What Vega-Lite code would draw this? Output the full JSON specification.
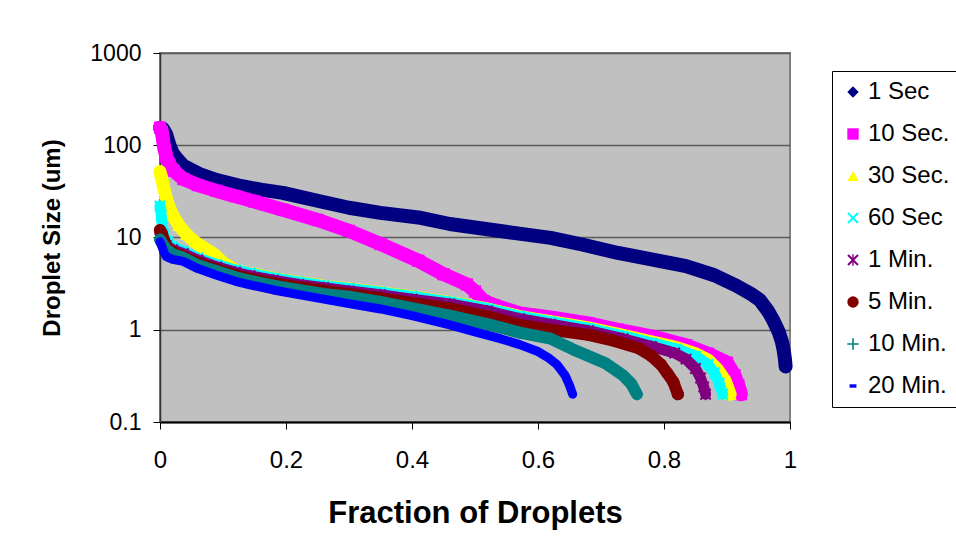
{
  "$schema": "https://vega.github.io/schema/vega-lite/v6.json",
  "width": 630,
  "height": 369,
  "autosize": {"type": "none"},
  "padding": {"left": 160, "top": 53, "right": 166, "bottom": 136},
  "background": "white",
  "config": {
    "font": "Liberation Sans",
    "view": {"fill": "#C0C0C0", "stroke": "#808080", "strokeWidth": 2},
    "axis": {
      "labelFont": "Liberation Sans",
      "labelColor": "#000000",
      "labelFlush": false,
      "titleFont": "Liberation Sans",
      "titleColor": "#000000",
      "titleFontWeight": "bold",
      "tickColor": "#000000",
      "tickSize": 7,
      "tickWidth": 1,
      "domainColor": "#000000",
      "domainWidth": 1.5
    },
    "legend": {
      "orient": "none",
      "legendX": 672,
      "legendY": 18,
      "padding": 9,
      "rowPadding": 18,
      "labelFont": "Liberation Sans",
      "labelFontSize": 24,
      "labelColor": "#000000",
      "labelOffset": 3,
      "symbolSize": 130,
      "symbolStrokeWidth": 0,
      "strokeColor": "#000000",
      "fillColor": "#FFFFFF",
      "titlePadding": 0
    }
  },
  "data": {
    "values": [
      {"s": "1 Sec", "f": 0, "v": 155}, {"s": "1 Sec", "f": 0.005, "v": 150}, {"s": "1 Sec", "f": 0.01, "v": 130},
      {"s": "1 Sec", "f": 0.015, "v": 100}, {"s": "1 Sec", "f": 0.02, "v": 82}, {"s": "1 Sec", "f": 0.028, "v": 70},
      {"s": "1 Sec", "f": 0.037, "v": 60}, {"s": "1 Sec", "f": 0.05, "v": 54}, {"s": "1 Sec", "f": 0.065, "v": 48},
      {"s": "1 Sec", "f": 0.09, "v": 42}, {"s": "1 Sec", "f": 0.13, "v": 36}, {"s": "1 Sec", "f": 0.16, "v": 33},
      {"s": "1 Sec", "f": 0.195, "v": 30.5}, {"s": "1 Sec", "f": 0.25, "v": 25}, {"s": "1 Sec", "f": 0.3, "v": 21},
      {"s": "1 Sec", "f": 0.35, "v": 18.5}, {"s": "1 Sec", "f": 0.41, "v": 16.5}, {"s": "1 Sec", "f": 0.46, "v": 14},
      {"s": "1 Sec", "f": 0.52, "v": 12.3}, {"s": "1 Sec", "f": 0.57, "v": 11}, {"s": "1 Sec", "f": 0.62, "v": 9.9},
      {"s": "1 Sec", "f": 0.67, "v": 8.4}, {"s": "1 Sec", "f": 0.727, "v": 6.8}, {"s": "1 Sec", "f": 0.78, "v": 5.8},
      {"s": "1 Sec", "f": 0.835, "v": 4.9}, {"s": "1 Sec", "f": 0.88, "v": 3.9}, {"s": "1 Sec", "f": 0.915, "v": 3.0},
      {"s": "1 Sec", "f": 0.94, "v": 2.4}, {"s": "1 Sec", "f": 0.952, "v": 2.1}, {"s": "1 Sec", "f": 0.965, "v": 1.6},
      {"s": "1 Sec", "f": 0.973, "v": 1.28}, {"s": "1 Sec", "f": 0.982, "v": 0.95}, {"s": "1 Sec", "f": 0.987, "v": 0.75},
      {"s": "1 Sec", "f": 0.99, "v": 0.6}, {"s": "1 Sec", "f": 0.992, "v": 0.48}, {"s": "1 Sec", "f": 0.993, "v": 0.4},

      {"s": "10 Sec.", "f": 0, "v": 155}, {"s": "10 Sec.", "f": 0.003, "v": 140}, {"s": "10 Sec.", "f": 0.006, "v": 100},
      {"s": "10 Sec.", "f": 0.01, "v": 75}, {"s": "10 Sec.", "f": 0.015, "v": 62}, {"s": "10 Sec.", "f": 0.022, "v": 53},
      {"s": "10 Sec.", "f": 0.037, "v": 43}, {"s": "10 Sec.", "f": 0.06, "v": 37}, {"s": "10 Sec.", "f": 0.09, "v": 32},
      {"s": "10 Sec.", "f": 0.12, "v": 28}, {"s": "10 Sec.", "f": 0.15, "v": 24.5}, {"s": "10 Sec.", "f": 0.195, "v": 20},
      {"s": "10 Sec.", "f": 0.25, "v": 15.5}, {"s": "10 Sec.", "f": 0.3, "v": 11.8}, {"s": "10 Sec.", "f": 0.35, "v": 8.5},
      {"s": "10 Sec.", "f": 0.41, "v": 5.6}, {"s": "10 Sec.", "f": 0.45, "v": 4.0}, {"s": "10 Sec.", "f": 0.487, "v": 3.1},
      {"s": "10 Sec.", "f": 0.5, "v": 2.6}, {"s": "10 Sec.", "f": 0.514, "v": 2.05}, {"s": "10 Sec.", "f": 0.53, "v": 1.85},
      {"s": "10 Sec.", "f": 0.571, "v": 1.5}, {"s": "10 Sec.", "f": 0.62, "v": 1.36}, {"s": "10 Sec.", "f": 0.68, "v": 1.17},
      {"s": "10 Sec.", "f": 0.727, "v": 1.0}, {"s": "10 Sec.", "f": 0.78, "v": 0.85}, {"s": "10 Sec.", "f": 0.835, "v": 0.68},
      {"s": "10 Sec.", "f": 0.87, "v": 0.55}, {"s": "10 Sec.", "f": 0.9, "v": 0.44}, {"s": "10 Sec.", "f": 0.912, "v": 0.32},
      {"s": "10 Sec.", "f": 0.918, "v": 0.25}, {"s": "10 Sec.", "f": 0.922, "v": 0.2},

      {"s": "30 Sec.", "f": 0, "v": 52}, {"s": "30 Sec.", "f": 0.004, "v": 40}, {"s": "30 Sec.", "f": 0.008, "v": 30},
      {"s": "30 Sec.", "f": 0.013, "v": 23}, {"s": "30 Sec.", "f": 0.02, "v": 17.5}, {"s": "30 Sec.", "f": 0.03, "v": 13.5},
      {"s": "30 Sec.", "f": 0.042, "v": 10.8}, {"s": "30 Sec.", "f": 0.055, "v": 9.0}, {"s": "30 Sec.", "f": 0.07, "v": 7.7},
      {"s": "30 Sec.", "f": 0.087, "v": 6.5}, {"s": "30 Sec.", "f": 0.1, "v": 5.3}, {"s": "30 Sec.", "f": 0.12, "v": 4.4},
      {"s": "30 Sec.", "f": 0.143, "v": 4.05}, {"s": "30 Sec.", "f": 0.18, "v": 3.6}, {"s": "30 Sec.", "f": 0.22, "v": 3.25},
      {"s": "30 Sec.", "f": 0.26, "v": 2.97}, {"s": "30 Sec.", "f": 0.3, "v": 2.77}, {"s": "30 Sec.", "f": 0.35, "v": 2.52},
      {"s": "30 Sec.", "f": 0.4, "v": 2.27}, {"s": "30 Sec.", "f": 0.46, "v": 1.98}, {"s": "30 Sec.", "f": 0.52, "v": 1.68},
      {"s": "30 Sec.", "f": 0.571, "v": 1.39}, {"s": "30 Sec.", "f": 0.62, "v": 1.22}, {"s": "30 Sec.", "f": 0.68, "v": 1.05},
      {"s": "30 Sec.", "f": 0.735, "v": 0.87}, {"s": "30 Sec.", "f": 0.78, "v": 0.74}, {"s": "30 Sec.", "f": 0.82, "v": 0.64},
      {"s": "30 Sec.", "f": 0.85, "v": 0.55}, {"s": "30 Sec.", "f": 0.87, "v": 0.47}, {"s": "30 Sec.", "f": 0.885, "v": 0.37},
      {"s": "30 Sec.", "f": 0.897, "v": 0.28}, {"s": "30 Sec.", "f": 0.905, "v": 0.2},

      {"s": "60 Sec", "f": 0, "v": 22}, {"s": "60 Sec", "f": 0.002, "v": 17.5}, {"s": "60 Sec", "f": 0.004, "v": 13},
      {"s": "60 Sec", "f": 0.007, "v": 10.5}, {"s": "60 Sec", "f": 0.012, "v": 9}, {"s": "60 Sec", "f": 0.02, "v": 8},
      {"s": "60 Sec", "f": 0.037, "v": 7.1}, {"s": "60 Sec", "f": 0.06, "v": 6.0}, {"s": "60 Sec", "f": 0.09, "v": 5.1},
      {"s": "60 Sec", "f": 0.12, "v": 4.45}, {"s": "60 Sec", "f": 0.143, "v": 4.1}, {"s": "60 Sec", "f": 0.18, "v": 3.65},
      {"s": "60 Sec", "f": 0.22, "v": 3.3}, {"s": "60 Sec", "f": 0.26, "v": 3.0}, {"s": "60 Sec", "f": 0.3, "v": 2.8},
      {"s": "60 Sec", "f": 0.35, "v": 2.55}, {"s": "60 Sec", "f": 0.4, "v": 2.3}, {"s": "60 Sec", "f": 0.46, "v": 2.0},
      {"s": "60 Sec", "f": 0.52, "v": 1.7}, {"s": "60 Sec", "f": 0.571, "v": 1.4}, {"s": "60 Sec", "f": 0.62, "v": 1.22},
      {"s": "60 Sec", "f": 0.68, "v": 1.04}, {"s": "60 Sec", "f": 0.735, "v": 0.86}, {"s": "60 Sec", "f": 0.78, "v": 0.72},
      {"s": "60 Sec", "f": 0.82, "v": 0.62}, {"s": "60 Sec", "f": 0.85, "v": 0.52}, {"s": "60 Sec", "f": 0.87, "v": 0.42},
      {"s": "60 Sec", "f": 0.88, "v": 0.34}, {"s": "60 Sec", "f": 0.888, "v": 0.26}, {"s": "60 Sec", "f": 0.893, "v": 0.2},

      {"s": "1 Min.", "f": 0, "v": 11}, {"s": "1 Min.", "f": 0.005, "v": 9.2}, {"s": "1 Min.", "f": 0.01, "v": 8.2},
      {"s": "1 Min.", "f": 0.02, "v": 7.4}, {"s": "1 Min.", "f": 0.037, "v": 6.7}, {"s": "1 Min.", "f": 0.06, "v": 5.7},
      {"s": "1 Min.", "f": 0.09, "v": 4.8}, {"s": "1 Min.", "f": 0.12, "v": 4.2}, {"s": "1 Min.", "f": 0.143, "v": 3.85},
      {"s": "1 Min.", "f": 0.18, "v": 3.45}, {"s": "1 Min.", "f": 0.22, "v": 3.1}, {"s": "1 Min.", "f": 0.26, "v": 2.85},
      {"s": "1 Min.", "f": 0.3, "v": 2.64}, {"s": "1 Min.", "f": 0.35, "v": 2.4}, {"s": "1 Min.", "f": 0.4, "v": 2.15},
      {"s": "1 Min.", "f": 0.46, "v": 1.9}, {"s": "1 Min.", "f": 0.52, "v": 1.6}, {"s": "1 Min.", "f": 0.571, "v": 1.32},
      {"s": "1 Min.", "f": 0.62, "v": 1.15}, {"s": "1 Min.", "f": 0.68, "v": 0.98}, {"s": "1 Min.", "f": 0.735, "v": 0.8},
      {"s": "1 Min.", "f": 0.78, "v": 0.66}, {"s": "1 Min.", "f": 0.817, "v": 0.56}, {"s": "1 Min.", "f": 0.835, "v": 0.48},
      {"s": "1 Min.", "f": 0.85, "v": 0.38}, {"s": "1 Min.", "f": 0.858, "v": 0.3}, {"s": "1 Min.", "f": 0.863, "v": 0.24},
      {"s": "1 Min.", "f": 0.866, "v": 0.2},

      {"s": "5 Min.", "f": 0, "v": 12}, {"s": "5 Min.", "f": 0.003, "v": 11}, {"s": "5 Min.", "f": 0.006, "v": 9.5},
      {"s": "5 Min.", "f": 0.01, "v": 8.0}, {"s": "5 Min.", "f": 0.02, "v": 7.0}, {"s": "5 Min.", "f": 0.037, "v": 6.2},
      {"s": "5 Min.", "f": 0.06, "v": 5.3}, {"s": "5 Min.", "f": 0.09, "v": 4.5}, {"s": "5 Min.", "f": 0.12, "v": 3.9},
      {"s": "5 Min.", "f": 0.143, "v": 3.57}, {"s": "5 Min.", "f": 0.18, "v": 3.2}, {"s": "5 Min.", "f": 0.22, "v": 2.9},
      {"s": "5 Min.", "f": 0.26, "v": 2.65}, {"s": "5 Min.", "f": 0.3, "v": 2.45}, {"s": "5 Min.", "f": 0.35, "v": 2.2},
      {"s": "5 Min.", "f": 0.4, "v": 1.95}, {"s": "5 Min.", "f": 0.46, "v": 1.7}, {"s": "5 Min.", "f": 0.52, "v": 1.4},
      {"s": "5 Min.", "f": 0.571, "v": 1.13}, {"s": "5 Min.", "f": 0.62, "v": 1.0}, {"s": "5 Min.", "f": 0.68, "v": 0.88},
      {"s": "5 Min.", "f": 0.72, "v": 0.76}, {"s": "5 Min.", "f": 0.76, "v": 0.63}, {"s": "5 Min.", "f": 0.78, "v": 0.52},
      {"s": "5 Min.", "f": 0.795, "v": 0.42}, {"s": "5 Min.", "f": 0.805, "v": 0.34}, {"s": "5 Min.", "f": 0.815, "v": 0.27},
      {"s": "5 Min.", "f": 0.822, "v": 0.2},

      {"s": "10 Min.", "f": 0, "v": 9.5}, {"s": "10 Min.", "f": 0.005, "v": 8.3}, {"s": "10 Min.", "f": 0.01, "v": 7.4},
      {"s": "10 Min.", "f": 0.02, "v": 6.6}, {"s": "10 Min.", "f": 0.037, "v": 6.0}, {"s": "10 Min.", "f": 0.06, "v": 5.0},
      {"s": "10 Min.", "f": 0.09, "v": 4.3}, {"s": "10 Min.", "f": 0.12, "v": 3.7}, {"s": "10 Min.", "f": 0.143, "v": 3.4},
      {"s": "10 Min.", "f": 0.18, "v": 3.0}, {"s": "10 Min.", "f": 0.22, "v": 2.7}, {"s": "10 Min.", "f": 0.26, "v": 2.45},
      {"s": "10 Min.", "f": 0.3, "v": 2.28}, {"s": "10 Min.", "f": 0.35, "v": 2.0}, {"s": "10 Min.", "f": 0.4, "v": 1.72},
      {"s": "10 Min.", "f": 0.46, "v": 1.42}, {"s": "10 Min.", "f": 0.52, "v": 1.15}, {"s": "10 Min.", "f": 0.571, "v": 0.93},
      {"s": "10 Min.", "f": 0.62, "v": 0.8}, {"s": "10 Min.", "f": 0.654, "v": 0.62}, {"s": "10 Min.", "f": 0.68, "v": 0.52},
      {"s": "10 Min.", "f": 0.708, "v": 0.43}, {"s": "10 Min.", "f": 0.735, "v": 0.32}, {"s": "10 Min.", "f": 0.748, "v": 0.26},
      {"s": "10 Min.", "f": 0.757, "v": 0.2},

      {"s": "20 Min.", "f": 0, "v": 9}, {"s": "20 Min.", "f": 0.003, "v": 8}, {"s": "20 Min.", "f": 0.006, "v": 7},
      {"s": "20 Min.", "f": 0.01, "v": 6.2}, {"s": "20 Min.", "f": 0.02, "v": 5.8}, {"s": "20 Min.", "f": 0.037, "v": 5.5},
      {"s": "20 Min.", "f": 0.06, "v": 4.6}, {"s": "20 Min.", "f": 0.09, "v": 3.9}, {"s": "20 Min.", "f": 0.12, "v": 3.35},
      {"s": "20 Min.", "f": 0.143, "v": 3.07}, {"s": "20 Min.", "f": 0.18, "v": 2.7}, {"s": "20 Min.", "f": 0.22, "v": 2.4},
      {"s": "20 Min.", "f": 0.26, "v": 2.15}, {"s": "20 Min.", "f": 0.3, "v": 1.92}, {"s": "20 Min.", "f": 0.35, "v": 1.68},
      {"s": "20 Min.", "f": 0.4, "v": 1.42}, {"s": "20 Min.", "f": 0.46, "v": 1.13}, {"s": "20 Min.", "f": 0.5, "v": 0.95},
      {"s": "20 Min.", "f": 0.54, "v": 0.8}, {"s": "20 Min.", "f": 0.571, "v": 0.69}, {"s": "20 Min.", "f": 0.6, "v": 0.58},
      {"s": "20 Min.", "f": 0.616, "v": 0.5}, {"s": "20 Min.", "f": 0.63, "v": 0.42}, {"s": "20 Min.", "f": 0.643, "v": 0.32},
      {"s": "20 Min.", "f": 0.65, "v": 0.25}, {"s": "20 Min.", "f": 0.655, "v": 0.2}
    ]
  },
  "encoding": {
    "x": {
      "field": "f", "type": "quantitative",
      "scale": {"domain": [0, 1], "nice": false, "zero": false},
      "axis": {
        "title": "Fraction of Droplets",
        "titleFontSize": 31,
        "titlePadding": 26,
        "values": [0, 0.2, 0.4, 0.6, 0.8, 1],
        "labelExpr": "'' + datum.value",
        "labelFontSize": 24,
        "labelPadding": 19,
        "grid": false,
        "domainWidth": 2
      }
    },
    "y": {
      "field": "v", "type": "quantitative",
      "scale": {"type": "log", "domain": [0.1, 1000], "nice": false},
      "axis": {
        "title": "Droplet Size (um)",
        "titleFontSize": 24,
        "titlePadding": 25,
        "values": [0.1, 1, 10, 100, 1000],
        "labelExpr": "'' + datum.value",
        "labelFontSize": 23,
        "labelPadding": 12,
        "grid": true,
        "gridColor": "#5A5A5A",
        "gridWidth": 1.5,
        "gridOpacity": 1,
        "domainColor": "#333333"
      }
    }
  },
  "layer": [
    {"transform": [{"filter": "datum.s === '1 Sec'"}], "mark": {"type": "line", "color": "#000080", "strokeWidth": 14, "strokeCap": "round", "strokeJoin": "round"}},
    {"transform": [{"filter": "datum.s === '1 Sec'"}], "mark": {"type": "point", "filled": true, "opacity": 1, "size": 180},
      "encoding": {
        "color": {"field": "s", "type": "nominal", "title": null, "scale": {"domain": ["1 Sec", "10 Sec.", "30 Sec.", "60 Sec", "1 Min.", "5 Min.", "10 Min.", "20 Min."], "range": ["#000080", "#FF00FF", "#FFFF00", "#00FFFF", "#800080", "#800000", "#008080", "#0000FF"]}},
        "shape": {"field": "s", "type": "nominal", "title": null, "scale": {"domain": ["1 Sec", "10 Sec.", "30 Sec.", "60 Sec", "1 Min.", "5 Min.", "10 Min.", "20 Min."], "range": ["diamond", "square", "triangle-up", "M-1,-0.75L-0.75,-1L0,-0.25L0.75,-1L1,-0.75L0.25,0L1,0.75L0.75,1L0,0.25L-0.75,1L-1,0.75L-0.25,0Z", "M-1,-0.75L-0.75,-1L0,-0.25L0.75,-1L1,-0.75L0.25,0L1,0.75L0.75,1L0,0.25L-0.75,1L-1,0.75L-0.25,0ZM-0.12,-1L0.12,-1L0.12,1L-0.12,1Z", "circle", "M-0.14,-1L0.14,-1L0.14,-0.14L1,-0.14L1,0.14L0.14,0.14L0.14,1L-0.14,1L-0.14,0.14L-1,0.14L-1,-0.14L-0.14,-0.14Z", "M-0.6,-0.3L0.6,-0.3L0.6,0.3L-0.6,0.3Z"]}}
      }},
    {"transform": [{"filter": "datum.s === '10 Sec.'"}], "mark": {"type": "line", "color": "#FF00FF", "strokeWidth": 14, "strokeCap": "round", "strokeJoin": "round"}},
    {"transform": [{"filter": "datum.s === '10 Sec.'"}], "mark": {"type": "point", "filled": true, "opacity": 1, "size": 150},
      "encoding": {"color": {"field": "s", "type": "nominal", "title": null}, "shape": {"field": "s", "type": "nominal", "title": null}}},
    {"transform": [{"filter": "datum.s === '30 Sec.'"}], "mark": {"type": "line", "color": "#FFFF00", "strokeWidth": 13, "strokeCap": "round", "strokeJoin": "round"}},
    {"transform": [{"filter": "datum.s === '30 Sec.'"}], "mark": {"type": "point", "filled": true, "opacity": 1, "size": 170},
      "encoding": {"color": {"field": "s", "type": "nominal", "title": null}, "shape": {"field": "s", "type": "nominal", "title": null}}},
    {"transform": [{"filter": "datum.s === '60 Sec'"}], "mark": {"type": "line", "color": "#00FFFF", "strokeWidth": 11, "strokeCap": "round", "strokeJoin": "round"}},
    {"transform": [{"filter": "datum.s === '60 Sec'"}], "mark": {"type": "point", "filled": true, "opacity": 1, "size": 140},
      "encoding": {"color": {"field": "s", "type": "nominal", "title": null}, "shape": {"field": "s", "type": "nominal", "title": null}}},
    {"transform": [{"filter": "datum.s === '1 Min.'"}], "mark": {"type": "line", "color": "#800080", "strokeWidth": 11, "strokeCap": "round", "strokeJoin": "round"}},
    {"transform": [{"filter": "datum.s === '1 Min.'"}], "mark": {"type": "point", "filled": true, "opacity": 1, "size": 140},
      "encoding": {"color": {"field": "s", "type": "nominal", "title": null}, "shape": {"field": "s", "type": "nominal", "title": null}}},
    {"transform": [{"filter": "datum.s === '5 Min.'"}], "mark": {"type": "line", "color": "#800000", "strokeWidth": 12, "strokeCap": "round", "strokeJoin": "round"}},
    {"transform": [{"filter": "datum.s === '5 Min.'"}], "mark": {"type": "point", "filled": true, "opacity": 1, "size": 150},
      "encoding": {"color": {"field": "s", "type": "nominal", "title": null}, "shape": {"field": "s", "type": "nominal", "title": null}}},
    {"transform": [{"filter": "datum.s === '10 Min.'"}], "mark": {"type": "line", "color": "#008080", "strokeWidth": 12, "strokeCap": "round", "strokeJoin": "round"}},
    {"transform": [{"filter": "datum.s === '10 Min.'"}], "mark": {"type": "point", "filled": true, "opacity": 1, "size": 150},
      "encoding": {"color": {"field": "s", "type": "nominal", "title": null}, "shape": {"field": "s", "type": "nominal", "title": null}}},
    {"transform": [{"filter": "datum.s === '20 Min.'"}], "mark": {"type": "line", "color": "#0000FF", "strokeWidth": 9, "strokeCap": "round", "strokeJoin": "round"}},
    {"transform": [{"filter": "datum.s === '20 Min.'"}], "mark": {"type": "point", "filled": true, "opacity": 1, "size": 110},
      "encoding": {"color": {"field": "s", "type": "nominal", "title": null}, "shape": {"field": "s", "type": "nominal", "title": null}}}
  ]
}
